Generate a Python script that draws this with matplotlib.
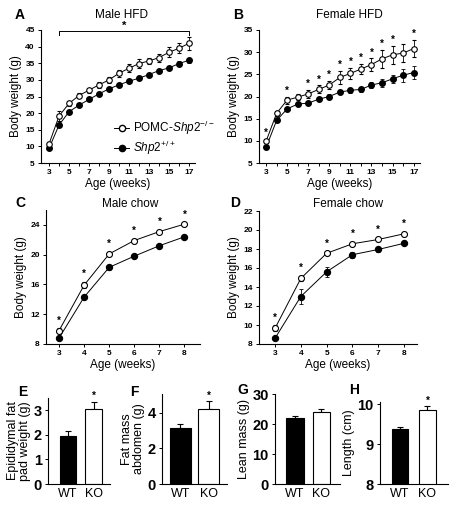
import matplotlib
matplotlib.use("Agg")
import matplotlib.pyplot as plt
import numpy as np
from matplotlib.lines import Line2D

plt.rcParams['font.family'] = ['Liberation Sans', 'DejaVu Sans']
plt.rcParams['mathtext.fontset'] = 'custom'
plt.rcParams['mathtext.rm'] = 'Liberation Sans'
plt.rcParams['mathtext.it'] = 'Liberation Sans:italic'

# ---------------- data ----------------
weeks_hfd = list(range(3, 18))
male_hfd_ko = [10.7, 19.1, 22.9, 25.3, 26.9, 28.5, 30.0, 32.0, 33.5, 34.9, 35.7, 36.7, 38.3, 39.5, 41.0]
male_hfd_ko_err = [0.5, 1.5, 0.8, 0.7, 0.7, 0.8, 0.9, 1.0, 1.2, 1.3, 1.0, 1.2, 1.5, 1.5, 2.0]
male_hfd_wt = [9.4, 16.4, 20.4, 22.4, 24.1, 25.8, 27.3, 28.5, 29.6, 30.5, 31.6, 32.8, 33.6, 34.9, 35.9]
male_hfd_wt_err = [0.5, 0.6, 0.5, 0.5, 0.5, 0.5, 0.5, 0.6, 0.6, 0.6, 0.6, 0.6, 0.7, 0.7, 0.8]

female_hfd_ko = [9.9, 16.2, 19.2, 19.85, 20.6, 21.6, 22.6, 24.3, 25.2, 26.2, 27.2, 28.5, 29.4, 29.8, 30.8]
female_hfd_ko_err = [0.5, 0.5, 0.8, 0.7, 0.9, 0.9, 1.0, 1.5, 1.3, 1.2, 1.4, 2.0, 2.0, 2.0, 2.0]
female_hfd_wt = [8.5, 14.6, 17.2, 18.3, 18.5, 19.4, 20.0, 21.0, 21.4, 21.6, 22.6, 23.1, 24.0, 24.8, 25.4]
female_hfd_wt_err = [0.4, 0.4, 0.4, 0.4, 0.4, 0.5, 0.5, 0.5, 0.5, 0.6, 0.7, 0.9, 0.9, 1.5, 1.5]
female_hfd_stars = [3, 5, 7, 8, 9, 10, 11, 12, 13, 14, 15, 17]

weeks_chow = [3, 4, 5, 6, 7, 8]
male_chow_ko = [9.8, 15.9, 20.1, 21.9, 23.1, 24.1]
male_chow_ko_err = [0.3, 0.4, 0.3, 0.2, 0.2, 0.2]
male_chow_wt = [8.8, 14.3, 18.3, 19.8, 21.2, 22.4]
male_chow_wt_err = [0.3, 0.3, 0.3, 0.3, 0.2, 0.2]

female_chow_ko = [9.65, 14.9, 17.55, 18.55, 19.0, 19.6]
female_chow_ko_err = [0.3, 0.3, 0.2, 0.2, 0.2, 0.2]
female_chow_wt = [8.6, 13.0, 15.6, 17.4, 17.95, 18.6]
female_chow_wt_err = [0.2, 0.8, 0.5, 0.3, 0.3, 0.2]

bar_groups = ['WT', 'KO']
fat_pad = [1.97, 3.05]
fat_pad_err = [0.17, 0.30]
fat_abd = [3.15, 4.22]
fat_abd_err = [0.22, 0.42]
lean_mass = [22.0, 24.1]
lean_mass_err = [0.8, 1.0]
length_cm = [9.37, 9.84]
length_cm_err = [0.05, 0.10]

# ---------------- figure ----------------
W, H = 454, 509
fig = plt.figure(figsize=(W / 100, H / 100), dpi=100)


def ax_px(left, top, right, bottom):
    return fig.add_axes([left / W, 1 - bottom / H, (right - left) / W, (bottom - top) / H])


def style(ax, tsize=6):
    ax.spines['top'].set_visible(False)
    ax.spines['right'].set_visible(False)
    for s in ['left', 'bottom']:
        ax.spines[s].set_linewidth(0.8)
    ax.tick_params(direction='out', length=2.5, width=0.7, labelsize=tsize, pad=2)
    for lab in ax.get_xticklabels() + ax.get_yticklabels():
        lab.set_fontweight('bold')


def growth(ax, x, ko, ko_err, wt, wt_err, ms=4.3):
    ax.errorbar(x, wt, yerr=wt_err, fmt='-o', color='black', mfc='black', mec='black',
                ms=ms, lw=0.7, elinewidth=0.6, capsize=1.5, capthick=0.6, zorder=3)
    ax.errorbar(x, ko, yerr=ko_err, fmt='-o', color='black', mfc='white', mec='black',
                ms=ms, mew=0.8, lw=0.7, elinewidth=0.6, capsize=1.5, capthick=0.6, zorder=4)


def title(text, xc, yc):
    fig.text(xc / W, 1 - yc / H, text, fontsize=8.5, ha='center', va='center')


ko_label = r'POMC-$\mathit{Shp2}^{-/-}$'
wt_label = r'$\mathit{Shp2}^{+/+}$'

# Panel A
axA = ax_px(41, 30, 195, 163)
growth(axA, weeks_hfd, male_hfd_ko, male_hfd_ko_err, male_hfd_wt, male_hfd_wt_err, ms=4.0)
axA.set_xlim(2.2, 17.6)
axA.set_ylim(5, 45)
axA.set_xticks(weeks_hfd)
axA.set_xticklabels([str(w) if w % 2 == 1 else '' for w in weeks_hfd])
axA.set_yticks(range(5, 50, 5))
axA.set_xlabel('Age (weeks)', fontsize=8.5, labelpad=1)
axA.set_ylabel('Body weight (g)', fontsize=8.5, labelpad=2)
title('Male HFD', 122, 15)
style(axA)
axA.plot([4, 4, 17, 17], [43.5, 44.6, 44.6, 43.5], color='black', lw=0.7, clip_on=False)
axA.text(10.5, 44.8, '*', ha='center', va='bottom', fontsize=8, fontweight='bold')
h_ko = Line2D([], [], color='black', marker='o', mfc='white', mec='black', ms=4.5, lw=0.7)
h_wt = Line2D([], [], color='black', marker='o', mfc='black', mec='black', ms=4.5, lw=0.7)
axA.legend([h_ko, h_wt], [ko_label, wt_label], loc='lower left', bbox_to_anchor=(0.42, -0.02),
           frameon=False, fontsize=8.5, handlelength=1.3, handletextpad=0.3, labelspacing=0.2,
           borderpad=0.2)

# Panel B
axB = ax_px(259, 30, 420, 163)
growth(axB, weeks_hfd, female_hfd_ko, female_hfd_ko_err, female_hfd_wt, female_hfd_wt_err, ms=4.0)
axB.set_xlim(2.33, 17.6)
axB.set_ylim(5, 35)
axB.set_xticks(weeks_hfd)
axB.set_xticklabels([str(w) if w % 2 == 1 else '' for w in weeks_hfd])
axB.set_yticks(range(5, 40, 5))
axB.set_xlabel('Age (weeks)', fontsize=8.5, labelpad=1)
axB.set_ylabel('Body weight (g)', fontsize=8.5, labelpad=2)
title('Female HFD', 349, 15)
style(axB)
for w in female_hfd_stars:
    i = weeks_hfd.index(w)
    axB.text(w, female_hfd_ko[i] + female_hfd_ko_err[i] + 0.2, '*', ha='center', va='bottom',
             fontsize=7, fontweight='bold')

# Panel C
axC = ax_px(46, 210, 200, 344)
growth(axC, weeks_chow, male_chow_ko, male_chow_ko_err, male_chow_wt, male_chow_wt_err)
axC.set_xlim(2.48, 8.62)
axC.set_ylim(8, 26)
axC.set_xticks(weeks_chow)
axC.set_yticks([8, 12, 16, 20, 24])
axC.set_xlabel('Age (weeks)', fontsize=8.5, labelpad=1)
axC.set_ylabel('Body weight (g)', fontsize=8.5, labelpad=2)
title('Male chow', 130, 204)
style(axC)
for w, v, e in zip(weeks_chow, male_chow_ko, male_chow_ko_err):
    axC.text(w, v + e + 0.4, '*', ha='center', va='bottom', fontsize=7, fontweight='bold')

# Panel D
axD = ax_px(259, 211, 417, 344)
growth(axD, weeks_chow, female_chow_ko, female_chow_ko_err, female_chow_wt, female_chow_wt_err)
axD.set_xlim(2.38, 8.5)
axD.set_ylim(8, 22)
axD.set_xticks(weeks_chow)
axD.set_yticks(range(8, 24, 2))
axD.set_xlabel('Age (weeks)', fontsize=8.5, labelpad=1)
axD.set_ylabel('Body weight (g)', fontsize=8.5, labelpad=2)
title('Female chow', 348, 204)
style(axD)
for w, v, e in zip(weeks_chow, female_chow_ko, female_chow_ko_err):
    axD.text(w, v + e + 0.3, '*', ha='center', va='bottom', fontsize=7, fontweight='bold')


# Bar panels
def bars(ax, vals, errs, ylim, yticks, ylabel, xlim, width, star):
    x = np.arange(len(bar_groups))
    ax.bar(x, vals, width=width, color=['black', 'white'], edgecolor='black', linewidth=0.8, zorder=2)
    ax.errorbar(x, vals, yerr=[[0, 0], errs], fmt='none', ecolor='black', elinewidth=0.8,
                capsize=2.5, capthick=0.8, zorder=1)
    ax.set_xlim(*xlim)
    ax.set_ylim(*ylim)
    ax.set_yticks(yticks)
    ax.set_xticks(x)
    ax.set_xticklabels(bar_groups)
    ax.set_ylabel(ylabel, fontsize=9, labelpad=2, linespacing=1.0)
    style(ax, tsize=10.5)
    ax.tick_params(axis='x', length=0, labelsize=9, pad=3)
    for lab in ax.get_xticklabels():
        lab.set_fontweight('normal')
    if star:
        span = ylim[1] - ylim[0]
        ax.text(1, vals[1] + errs[1] + 0.01 * span, '*', ha='center', va='bottom',
                fontsize=7, fontweight='bold')


axE = ax_px(48, 398, 110, 484)
bars(axE, fat_pad, fat_pad_err, (0, 3.5), [0, 1, 2, 3], 'Epididymal fat\npad weight (g)',
     (-0.77, 1.62), 0.65, True)
axF = ax_px(162, 394, 227, 484)
bars(axF, fat_abd, fat_abd_err, (0, 5.05), [0, 2, 4], 'Fat mass\nabdomen (g)',
     (-0.66, 1.66), 0.78, True)
axG = ax_px(275, 394, 340, 484)
bars(axG, lean_mass, lean_mass_err, (0, 30), [0, 10, 20, 30], 'Lean mass (g)',
     (-0.75, 1.70), 0.65, False)
axH = ax_px(380, 402, 448, 484)
bars(axH, length_cm, length_cm_err, (8, 10.05), [8, 9, 10], 'Length (cm)',
     (-0.73, 1.75), 0.6, True)

# Panel letters
for lbl, x, y in [('A', 15, 15), ('B', 233, 15), ('C', 15, 203), ('D', 230, 203),
                  ('E', 18, 392), ('F', 130, 392), ('G', 237, 390), ('H', 349, 390)]:
    fig.text(x / W, 1 - y / H, lbl, fontsize=10, fontweight='bold', ha='left', va='center')

fig.savefig('out.png', dpi=100)
